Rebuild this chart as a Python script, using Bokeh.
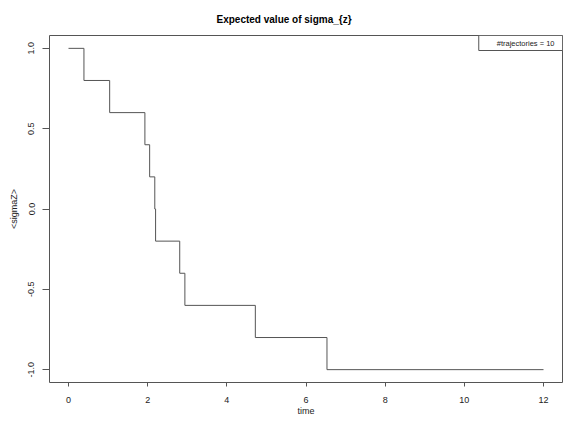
from bokeh.plotting import figure
from bokeh.models import Range1d, FixedTicker, Label, Title
from bokeh.embed import file_html
from bokeh.resources import INLINE

# Data
time = [0.0, 0.39, 1.04, 1.93, 2.05, 2.18, 2.20, 2.81, 2.94, 4.72, 6.53, 12.0]
sigma_z = [1.0, 0.8, 0.6, 0.4, 0.2, 0.0, -0.2, -0.4, -0.6, -0.8, -1.0, -1.0]
x_ticks = [0, 2, 4, 6, 8, 10, 12]
y_ticks = [-1.0, -0.5, 0.0, 0.5, 1.0]
y_tick_labels = ["-1.0", "-0.5", "0.0", "0.5", "1.0"]
title_text = "Expected value of sigma_{z}"
legend_text = "#trajectories = 10"

FONT = "Liberation Sans"
LINE = "#555555"

def padded(lo, hi, f=0.04):
    d = (hi - lo) * f
    return lo - d, hi + d

x0, x1 = padded(min(time), max(time))
y0, y1 = padded(min(sigma_z), max(sigma_z))

p = figure(width=564, height=430, output_backend="svg", toolbar_location=None,
           x_range=Range1d(x0, x1), y_range=Range1d(y0, y1),
           min_border_left=49, min_border_right=2, min_border_top=35, min_border_bottom=48)
p.title = Title(text=title_text, align="left", offset=167, text_font=FONT,
                text_font_size="10px", text_font_style="bold", text_color="black",
                standoff=22)

p.step(time, sigma_z, mode="after", line_color=LINE, line_width=1)

p.xgrid.visible = False
p.ygrid.visible = False
p.outline_line_color = LINE
p.outline_line_width = 1
p.background_fill_color = "white"
p.border_fill_color = "white"

xa = p.xaxis[0]
xa.ticker = FixedTicker(ticks=x_ticks)
xa.axis_line_color = None
xa.major_tick_line_color = LINE
xa.major_tick_out = 4
xa.major_tick_in = 0
xa.minor_tick_line_color = None
xa.major_label_standoff = 10
xa.major_label_text_font = FONT
xa.major_label_text_font_size = "9px"
xa.major_label_text_color = "#222222"
xa.axis_label = "time"
xa.axis_label_text_font = FONT
xa.axis_label_text_font_size = "9px"
xa.axis_label_text_font_style = "normal"
xa.axis_label_text_color = "#222222"
xa.axis_label_standoff = 0

ya = p.yaxis[0]
ya.ticker = FixedTicker(ticks=y_ticks)
ya.major_label_overrides = {t: l for t, l in zip(y_ticks, y_tick_labels)}
ya.axis_line_color = None
ya.major_tick_line_color = LINE
ya.major_tick_out = 7
ya.major_tick_in = 0
ya.minor_tick_line_color = None
ya.major_label_orientation = "vertical"
ya.major_label_standoff = 8
ya.major_label_text_font = FONT
ya.major_label_text_font_size = "9px"
ya.major_label_text_color = "#222222"
ya.axis_label = "<sigmaZ>"
ya.axis_label_text_font = FONT
ya.axis_label_text_font_size = "9px"
ya.axis_label_text_font_style = "normal"
ya.axis_label_text_color = "#222222"
ya.axis_label_standoff = 7

legend = Label(x=x1, y=y1, text=legend_text, anchor="top_right",
               text_align="right", text_baseline="top",
               text_font=FONT, text_font_size="7.5px", text_color="#222222",
               border_line_color=LINE, border_line_width=1,
               background_fill_color="white",
               padding=dict(left=18, right=8, top=3, bottom=3))
p.add_layout(legend)

open("out.html", "w").write(file_html(p, INLINE))
